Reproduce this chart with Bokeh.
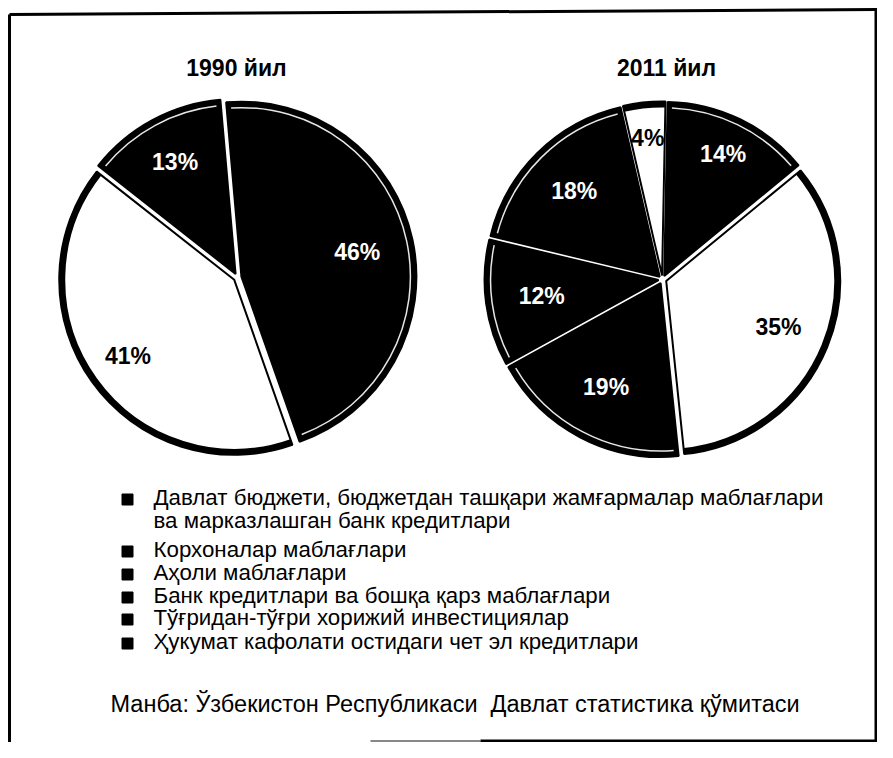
import math
from bokeh.plotting import figure
from bokeh.models import Range1d, ColumnDataSource
from bokeh.embed import file_html
from bokeh.resources import INLINE
from bokeh.core.properties import value

# ---------------- data ----------------
titles = ["1990 йил", "2011 йил"]

values_1990 = [46, 41, 13]
labels_1990 = ["46%", "41%", "13%"]
colors_1990 = ["black", "white", "black"]

values_2011 = [4, 14, 35, 19, 12, 18]
labels_2011 = ["4%", "14%", "35%", "19%", "12%", "18%"]
colors_2011 = ["white", "black", "white", "black", "black", "black"]

legend_labels = [
    ["Давлат бюджети, бюджетдан ташқари жамғармалар маблағлари",
     "ва марказлашган банк кредитлари"],
    ["Корхоналар маблағлари"],
    ["Аҳоли маблағлари"],
    ["Банк кредитлари ва бошқа қарз маблағлари"],
    ["Тўғридан-тўғри хорижий инвестициялар"],
    ["Ҳукумат кафолати остидаги чет эл кредитлари"],
]
source_text = "Манба: Ўзбекистон Республикаси\u00a0 Давлат статистика қўмитаси"

# ---------------- layout (pixel-like coordinates) ----------------
W, H = 877, 742
FONT = "Liberation Sans"

def X(px):  # reference-image x -> data x
    return px

def Y(py):  # reference-image y -> data y
    return H - py

p = figure(width=W, height=H, output_backend="svg", toolbar_location=None,
           x_range=Range1d(0, W), y_range=Range1d(0, H), min_border=0)
p.axis.visible = False
p.grid.visible = False
p.outline_line_color = None
p.background_fill_color = "white"
p.border_fill_color = "white"


def draw_pie(cx_img, cy_img, r, start_cw, values, labels, colors, label_fr, explode):
    cx, cy = X(cx_img), Y(cy_img)
    total = float(sum(values))
    a0 = start_cw
    rows = dict(x=[], y=[], sa=[], ea=[], fill=[], lx=[], ly=[], txt=[], tcol=[])
    for v, lab, col, fr in zip(values, labels, colors, label_fr):
        a1 = a0 + 360.0 * v / total
        mid = math.radians(90 - (a0 + a1) / 2.0)
        ox = cx + explode * math.cos(mid)
        oy = cy + explode * math.sin(mid)
        rows["x"].append(ox)
        rows["y"].append(oy)
        rows["sa"].append(90 - a1)
        rows["ea"].append(90 - a0)
        rows["fill"].append(col)
        rows["lx"].append(cx + fr * r * math.cos(mid))
        rows["ly"].append(cy + fr * r * math.sin(mid))
        rows["txt"].append(lab)
        rows["tcol"].append("white" if col == "black" else "black")
        a0 = a1
    src = ColumnDataSource(rows)
    p.wedge(x="x", y="y", radius=r, start_angle="sa", end_angle="ea",
            start_angle_units="deg", end_angle_units="deg",
            fill_color="fill", line_color="black", line_width=2, source=src)
    # thick dark rim on white slices, thin light streak inside black slices
    for i, col in enumerate(rows["fill"]):
        if col == "white":
            p.arc(x=rows["x"][i], y=rows["y"][i], radius=r - 3,
                  start_angle=rows["sa"][i], end_angle=rows["ea"][i],
                  start_angle_units="deg", end_angle_units="deg",
                  line_color="black", line_width=6)
        else:
            p.arc(x=rows["x"][i], y=rows["y"][i], radius=r - 6,
                  start_angle=rows["sa"][i] + 1.5, end_angle=rows["ea"][i] - 1.5,
                  start_angle_units="deg", end_angle_units="deg",
                  line_color="white", line_width=1.5, line_alpha=0.9)
    p.text(x="lx", y="ly", text="txt", text_color="tcol", source=src,
           text_font=value(FONT), text_font_style="bold", text_font_size="23px",
           text_align="center", text_baseline="middle")


# pies
draw_pie(237, 277, 175, -5, values_1990, labels_1990, colors_1990,
         [0.70, 0.77, 0.75], 4)
draw_pie(662, 279, 174, -13, values_2011, labels_2011, colors_2011,
         [0.82, 0.80, 0.72, 0.70, 0.70, 0.72], 4)

# titles
p.text(x=[X(236), X(666)], y=[Y(67), Y(67)], text=titles,
       text_font=value(FONT), text_font_style="bold", text_font_size="23px",
       text_color="black", text_align="center", text_baseline="middle")

# legend
line_y = [[497, 520], [549], [572], [595], [617], [641]]
sq_x, sq_y, tx, ty, tt = [], [], [], [], []
for lines, ys in zip(legend_labels, line_y):
    sq_x.append(X(127))
    sq_y.append(Y(ys[0] + 2))
    for t, yy in zip(lines, ys):
        tx.append(X(153))
        ty.append(Y(yy))
        tt.append(t)
p.scatter(x=sq_x, y=sq_y, marker="square", size=11, fill_color="black",
          line_color="black")
p.text(x=tx, y=ty, text=tt, text_font=value(FONT), text_font_size="22.3px",
       text_color="black", text_align="left", text_baseline="middle")

# source
p.text(x=[X(110)], y=[Y(703)], text=[source_text], text_font=value(FONT),
       text_font_size="23.5px", text_color="black", text_align="left",
       text_baseline="middle")

# frame (scanned box)
p.line(x=[X(9), X(9)], y=[Y(14), Y(742)], line_color="black", line_width=3)
p.line(x=[X(9), X(877)], y=[Y(14), Y(9)], line_color="black", line_width=3)
p.line(x=[X(875.5), X(875.5)], y=[Y(9), Y(740.5)], line_color="black", line_width=3)
p.line(x=[X(370), X(480)], y=[Y(740.5), Y(740.5)], line_color="#888888", line_width=2)
p.line(x=[X(480), X(877)], y=[Y(740.5), Y(740.5)], line_color="black", line_width=3)

open("out.html", "w").write(file_html(p, INLINE))
